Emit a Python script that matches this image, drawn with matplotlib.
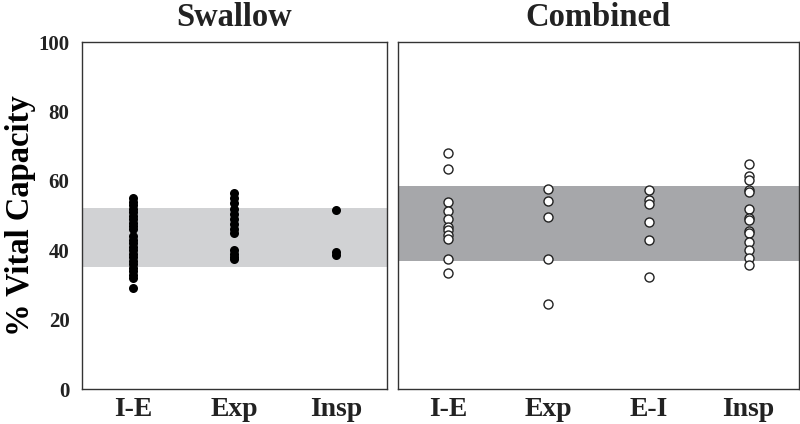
import matplotlib
matplotlib.use('Agg')
import matplotlib.pyplot as plt

# swallow (filled dots)
sw_cats = ['I-E', 'Exp', 'Insp']
sw_ie = [55, 54, 53, 52, 51, 50, 49, 48, 47, 46, 44, 43, 42, 41, 40, 39, 38, 37, 36, 35, 34, 33, 32, 29]
sw_exp = [56.5, 55, 53.5, 52, 50.5, 49, 47.5, 46, 45, 40, 39, 38, 37.5]
sw_insp = [51.5, 39.5, 38.5]
sw_band = (35.2, 52.2)

# combined (open circles)
cb_cats = ['I-E', 'Exp', 'E-I', 'Insp']
cb_ie = [68.1, 63.4, 53.9, 51.3, 48.9, 46.8, 45.8, 44.4, 43.3, 37.4, 33.4]
cb_exp = [57.6, 54.1, 49.6, 37.4, 24.6]
cb_ei = [57.3, 54.4, 53.3, 48.1, 43.1, 32.4]
cb_insp = [64.8, 61.5, 60.2, 57.3, 56.8, 51.9, 49.2, 48.7, 45.5, 44.9, 42.4, 40.1, 37.8, 35.7]
cb_band = (36.9, 58.5)

plt.rcParams['font.family'] = ['Liberation Serif', 'DejaVu Serif']
plt.rcParams['font.weight'] = 'bold'
plt.rcParams['text.color'] = '#222222'
plt.rcParams['xtick.color'] = '#222222'
plt.rcParams['ytick.color'] = '#222222'

fig = plt.figure(figsize=(8, 4.24), dpi=100)
ax1 = fig.add_axes((0.1025, 0.0825, 0.381, 0.818))
ax2 = fig.add_axes((0.4975, 0.0825, 0.501, 0.818))

def style(ax, cats):
  ax.set_xlim(-0.5, len(cats) - 0.5)
  ax.set_ylim(0, 100)
  ax.set_xticks(range(len(cats)))
  ax.set_xticklabels(cats, fontsize=20, fontweight='bold')
  ax.tick_params(axis='x', length=0, pad=6)
  ax.tick_params(axis='y', length=0, pad=9)
  for s in ax.spines.values():
    s.set_color('#333333')
    s.set_linewidth(1.0)

ax1.axhspan(sw_band[0], sw_band[1], color='#d1d2d4', lw=0, zorder=0)
for i, vals in enumerate([sw_ie, sw_exp, sw_insp]):
  ax1.plot([i] * len(vals), vals, 'o', color='black', ms=6.5, mew=0, zorder=3)
style(ax1, sw_cats)
ax1.set_yticks([0, 20, 40, 60, 80, 100])
ax1.set_yticklabels(['0', '20', '40', '60', '80', '100'], fontsize=15, fontweight='bold')
ax1.set_ylabel('% Vital Capacity', fontsize=23.5, fontweight='bold', labelpad=2)
ax1.set_title('Swallow', fontsize=23.5, fontweight='bold', pad=12)

ax2.axhspan(cb_band[0], cb_band[1], color='#a6a7aa', lw=0, zorder=0)
for i, vals in enumerate([cb_ie, cb_exp, cb_ei, cb_insp]):
  ax2.plot([i] * len(vals), vals, 'o', mfc='white', mec='#222222', ms=6.5, mew=1.0, zorder=3)
style(ax2, cb_cats)
ax2.set_yticks([])
ax2.set_title('Combined', fontsize=23.5, fontweight='bold', pad=12)

plt.savefig('out.png', dpi=100)
